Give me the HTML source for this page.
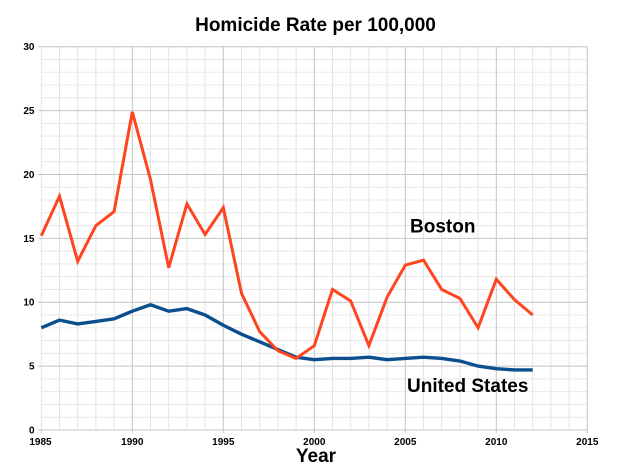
<!DOCTYPE html>
<html>
<head>
<meta charset="utf-8">
<style>
html,body{margin:0;padding:0;background:#fff;}
body{width:623px;height:467px;overflow:hidden;}
svg{display:block;font-family:"Liberation Sans",Arial,sans-serif;}
</style>
</head>
<body>
<svg width="623" height="467" viewBox="0 0 623 467" xmlns="http://www.w3.org/2000/svg">
<rect width="623" height="467" fill="#fff"/>
<g transform="translate(41.3,430) scale(18.2,-12.777)">
  <!-- minor vertical -->
  <g stroke="#e4e4e4" stroke-width="1" vector-effect="non-scaling-stroke">
    <line x1="1" y1="0" x2="1" y2="30" vector-effect="non-scaling-stroke"/>
    <line x1="2" y1="0" x2="2" y2="30" vector-effect="non-scaling-stroke"/>
    <line x1="3" y1="0" x2="3" y2="30" vector-effect="non-scaling-stroke"/>
    <line x1="4" y1="0" x2="4" y2="30" vector-effect="non-scaling-stroke"/>
    <line x1="6" y1="0" x2="6" y2="30" vector-effect="non-scaling-stroke"/>
    <line x1="7" y1="0" x2="7" y2="30" vector-effect="non-scaling-stroke"/>
    <line x1="8" y1="0" x2="8" y2="30" vector-effect="non-scaling-stroke"/>
    <line x1="9" y1="0" x2="9" y2="30" vector-effect="non-scaling-stroke"/>
    <line x1="11" y1="0" x2="11" y2="30" vector-effect="non-scaling-stroke"/>
    <line x1="12" y1="0" x2="12" y2="30" vector-effect="non-scaling-stroke"/>
    <line x1="13" y1="0" x2="13" y2="30" vector-effect="non-scaling-stroke"/>
    <line x1="14" y1="0" x2="14" y2="30" vector-effect="non-scaling-stroke"/>
    <line x1="16" y1="0" x2="16" y2="30" vector-effect="non-scaling-stroke"/>
    <line x1="17" y1="0" x2="17" y2="30" vector-effect="non-scaling-stroke"/>
    <line x1="18" y1="0" x2="18" y2="30" vector-effect="non-scaling-stroke"/>
    <line x1="19" y1="0" x2="19" y2="30" vector-effect="non-scaling-stroke"/>
    <line x1="21" y1="0" x2="21" y2="30" vector-effect="non-scaling-stroke"/>
    <line x1="22" y1="0" x2="22" y2="30" vector-effect="non-scaling-stroke"/>
    <line x1="23" y1="0" x2="23" y2="30" vector-effect="non-scaling-stroke"/>
    <line x1="24" y1="0" x2="24" y2="30" vector-effect="non-scaling-stroke"/>
    <line x1="26" y1="0" x2="26" y2="30" vector-effect="non-scaling-stroke"/>
    <line x1="27" y1="0" x2="27" y2="30" vector-effect="non-scaling-stroke"/>
    <line x1="28" y1="0" x2="28" y2="30" vector-effect="non-scaling-stroke"/>
    <line x1="29" y1="0" x2="29" y2="30" vector-effect="non-scaling-stroke"/>
    <line x1="0" y1="0" x2="0" y2="30" vector-effect="non-scaling-stroke"/>
  </g>
  <!-- minor horizontal -->
  <g stroke="#e8e8e8">
    <line x1="0" y1="1" x2="30" y2="1" vector-effect="non-scaling-stroke"/>
    <line x1="0" y1="2" x2="30" y2="2" vector-effect="non-scaling-stroke"/>
    <line x1="0" y1="3" x2="30" y2="3" vector-effect="non-scaling-stroke"/>
    <line x1="0" y1="4" x2="30" y2="4" vector-effect="non-scaling-stroke"/>
    <line x1="0" y1="6" x2="30" y2="6" vector-effect="non-scaling-stroke"/>
    <line x1="0" y1="7" x2="30" y2="7" vector-effect="non-scaling-stroke"/>
    <line x1="0" y1="8" x2="30" y2="8" vector-effect="non-scaling-stroke"/>
    <line x1="0" y1="9" x2="30" y2="9" vector-effect="non-scaling-stroke"/>
    <line x1="0" y1="11" x2="30" y2="11" vector-effect="non-scaling-stroke"/>
    <line x1="0" y1="12" x2="30" y2="12" vector-effect="non-scaling-stroke"/>
    <line x1="0" y1="13" x2="30" y2="13" vector-effect="non-scaling-stroke"/>
    <line x1="0" y1="14" x2="30" y2="14" vector-effect="non-scaling-stroke"/>
    <line x1="0" y1="16" x2="30" y2="16" vector-effect="non-scaling-stroke"/>
    <line x1="0" y1="17" x2="30" y2="17" vector-effect="non-scaling-stroke"/>
    <line x1="0" y1="18" x2="30" y2="18" vector-effect="non-scaling-stroke"/>
    <line x1="0" y1="19" x2="30" y2="19" vector-effect="non-scaling-stroke"/>
    <line x1="0" y1="21" x2="30" y2="21" vector-effect="non-scaling-stroke"/>
    <line x1="0" y1="22" x2="30" y2="22" vector-effect="non-scaling-stroke"/>
    <line x1="0" y1="23" x2="30" y2="23" vector-effect="non-scaling-stroke"/>
    <line x1="0" y1="24" x2="30" y2="24" vector-effect="non-scaling-stroke"/>
    <line x1="0" y1="26" x2="30" y2="26" vector-effect="non-scaling-stroke"/>
    <line x1="0" y1="27" x2="30" y2="27" vector-effect="non-scaling-stroke"/>
    <line x1="0" y1="28" x2="30" y2="28" vector-effect="non-scaling-stroke"/>
    <line x1="0" y1="29" x2="30" y2="29" vector-effect="non-scaling-stroke"/>
  </g>
  <!-- major -->
  <g stroke="#c4c4c4">
    <line x1="5" y1="0" x2="5" y2="30" vector-effect="non-scaling-stroke"/>
    <line x1="10" y1="0" x2="10" y2="30" vector-effect="non-scaling-stroke"/>
    <line x1="15" y1="0" x2="15" y2="30" vector-effect="non-scaling-stroke"/>
    <line x1="20" y1="0" x2="20" y2="30" vector-effect="non-scaling-stroke"/>
    <line x1="25" y1="0" x2="25" y2="30" vector-effect="non-scaling-stroke"/>
    <line x1="30" y1="0" x2="30" y2="30" vector-effect="non-scaling-stroke"/>
    <line x1="0" y1="0" x2="30" y2="0" vector-effect="non-scaling-stroke"/>
    <line x1="0" y1="5" x2="30" y2="5" vector-effect="non-scaling-stroke"/>
    <line x1="0" y1="10" x2="30" y2="10" vector-effect="non-scaling-stroke"/>
    <line x1="0" y1="15" x2="30" y2="15" vector-effect="non-scaling-stroke"/>
    <line x1="0" y1="20" x2="30" y2="20" vector-effect="non-scaling-stroke"/>
    <line x1="0" y1="25" x2="30" y2="25" vector-effect="non-scaling-stroke"/>
    <line x1="0" y1="30" x2="30" y2="30" vector-effect="non-scaling-stroke"/>
  </g>
  <!-- series -->
  <polyline fill="none" stroke="#0b4f8f" stroke-width="3.4" stroke-linejoin="round" stroke-linecap="butt" vector-effect="non-scaling-stroke"
    points="0,8.0 1,8.6 2,8.3 3,8.5 4,8.7 5,9.3 6,9.8 7,9.3 8,9.5 9,9.0 10,8.2 11,7.5 12,6.9 13,6.3 14,5.7 15,5.5 16,5.6 17,5.6 18,5.7 19,5.5 20,5.6 21,5.7 22,5.6 23,5.4 24,5.0 25,4.8 26,4.7 27,4.7"/>
  <polyline fill="none" stroke="#ff4420" stroke-width="3" stroke-linejoin="miter" stroke-linecap="butt" vector-effect="non-scaling-stroke"
    points="0,15.2 1,18.3 2,13.2 3,16.0 4,17.1 5,24.9 6,19.6 7,12.7 8,17.7 9,15.3 10,17.4 11,10.7 12,7.7 13,6.2 14,5.6 15,6.6 16,11.0 17,10.1 18,6.6 19,10.4 20,12.9 21,13.3 22,11.0 23,10.3 24,8.0 25,11.8 26,10.2 27,9.0"/>
</g>
<!-- ticks -->
<g stroke="#c4c4c4" stroke-width="1">
  <line x1="38" y1="430" x2="41.3" y2="430"/>
  <line x1="38" y1="366.1" x2="41.3" y2="366.1"/>
  <line x1="38" y1="302.2" x2="41.3" y2="302.2"/>
  <line x1="38" y1="238.3" x2="41.3" y2="238.3"/>
  <line x1="38" y1="174.4" x2="41.3" y2="174.4"/>
  <line x1="38" y1="110.6" x2="41.3" y2="110.6"/>
  <line x1="38" y1="46.7" x2="41.3" y2="46.7"/>
  <line x1="41.3" y1="430" x2="41.3" y2="433"/>
  <line x1="132.3" y1="430" x2="132.3" y2="433"/>
  <line x1="223.3" y1="430" x2="223.3" y2="433"/>
  <line x1="314.3" y1="430" x2="314.3" y2="433"/>
  <line x1="405.3" y1="430" x2="405.3" y2="433"/>
  <line x1="496.3" y1="430" x2="496.3" y2="433"/>
  <line x1="587.3" y1="430" x2="587.3" y2="433"/>
</g>
<!-- y labels -->
<g font-size="10" font-weight="bold" fill="#000" text-anchor="end">
  <text x="34.5" y="433.5">0</text>
  <text x="34.5" y="369.6">5</text>
  <text x="34.5" y="305.7">10</text>
  <text x="34.5" y="241.8">15</text>
  <text x="34.5" y="177.9">20</text>
  <text x="34.5" y="114.1">25</text>
  <text x="34.5" y="50.2">30</text>
</g>
<!-- x labels -->
<g font-size="10" font-weight="bold" fill="#000" text-anchor="middle">
  <text x="40.5" y="445">1985</text>
  <text x="132.3" y="445">1990</text>
  <text x="223.3" y="445">1995</text>
  <text x="314.3" y="445">2000</text>
  <text x="405.3" y="445">2005</text>
  <text x="496.3" y="445">2010</text>
  <text x="587.3" y="445">2015</text>
</g>
<text x="315.5" y="31" font-size="19" font-weight="bold" text-anchor="middle" fill="#000">Homicide Rate per 100,000</text>
<text x="316" y="462" font-size="19" font-weight="bold" text-anchor="middle" fill="#000">Year</text>
<text x="410" y="232.5" font-size="19" font-weight="bold" fill="#000">Boston</text>
<text x="407" y="392" font-size="19" font-weight="bold" fill="#000">United States</text>
</svg>
</body>
</html>
